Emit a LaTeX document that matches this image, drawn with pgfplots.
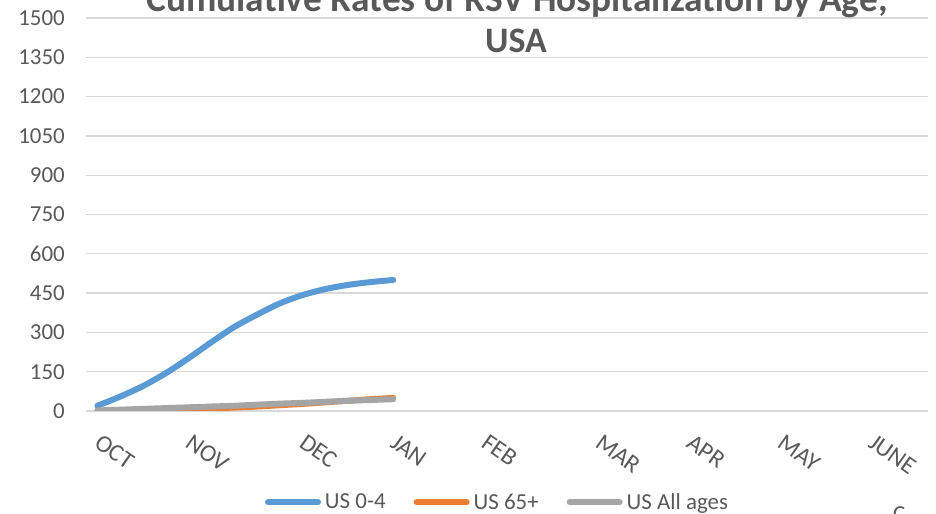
\documentclass[border=0pt]{standalone}
\usepackage{fontspec}
\setmainfont{Carlito}
\usepackage{pgfplots}
\pgfplotsset{compat=1.18}
\definecolor{cblue}{HTML}{5B9BD5}
\definecolor{corange}{HTML}{ED7D31}
\definecolor{cgray}{HTML}{A5A5A5}
\definecolor{ctext}{HTML}{595959}
\definecolor{cgrid}{HTML}{D9D9D9}
\begin{document}
\begin{tikzpicture}[x=1bp,y=1bp]
\useasboundingbox (0,0) rectangle (936,514);
\begin{axis}[
  at={(86bp,103bp)}, anchor=south west,
  scale only axis, width=842bp, height=393bp,
  xmin=-0.5, xmax=36.5, ymin=0, ymax=1500,
  ytick={0,150,...,1500},
  xtick={0,4,9,13,17,22,26,30,34},
  xticklabels={OCT,NOV,DEC,JAN,FEB,MAR,APR,MAY,JUNE},
  axis line style={draw=none},
  tick style={draw=none},
  ymajorgrids, grid style={cgrid, line width=1.3bp},
  /pgf/number format/assume math mode=true,
  /pgf/number format/1000 sep={},
  yticklabel style={font=\fontsize{23}{26}\selectfont, text=ctext, anchor=east, inner sep=0pt, xshift=-21bp},
  xticklabel style={font=\fontsize{24.5}{27}\selectfont, text=ctext, xshift=5bp, yshift=-22bp, rotate=-35, anchor=north west, inner sep=0pt},
  legend columns=3,
  legend style={at={(axis description cs:0.4875,-0.232)}, anchor=center, draw=none, fill=none,
    font=\fontsize{23}{26}\selectfont, text=ctext,
    nodes={inner sep=0pt},
    /tikz/every odd column/.append style={column sep=4bp},
    /tikz/every even column/.append style={column sep=28bp}},
  legend image code/.code={\draw[#1, line width=6bp, line cap=round] (3bp,0bp) -- (53bp,0bp);},
]
\addplot[cblue, line width=6bp, line cap=round, smooth] coordinates {
(0,20) (1,55) (2,95) (3,144) (4,201) (5,262) (6,320) (7,367) (8,410) (9,442) (10,465) (11,481) (12,492) (13,500)};
\addlegendentry{US 0-4}
\addplot[corange, line width=6bp, line cap=round, smooth] coordinates {
(0,0) (1,1) (2,2) (3,4) (4,7) (5,10) (6,13) (7,17) (8,22) (9,27) (10,33) (11,39) (12,45) (13,50)};
\addlegendentry{US 65+}
\addplot[cgray, line width=6bp, line cap=round, smooth] coordinates {
(0,2) (1,5) (2,8) (3,11) (4,14) (5,17) (6,20) (7,24) (8,28) (9,31) (10,35) (11,39) (12,42) (13,45)};
\addlegendentry{US All ages}
\end{axis}
\node[anchor=base, text=ctext, font=\fontsize{36}{40}\selectfont\bfseries] at (516,461) {USA};
\node[anchor=base, text=ctext, font=\fontsize{37.5}{40}\selectfont\bfseries] at (517,502) {Cumulative Rates of RSV Hospitalization by Age,};
\node[anchor=north west, text=ctext, font=\fontsize{23}{26}\selectfont, inner sep=0pt] at (893,8) {C};
\end{tikzpicture}
\end{document}
